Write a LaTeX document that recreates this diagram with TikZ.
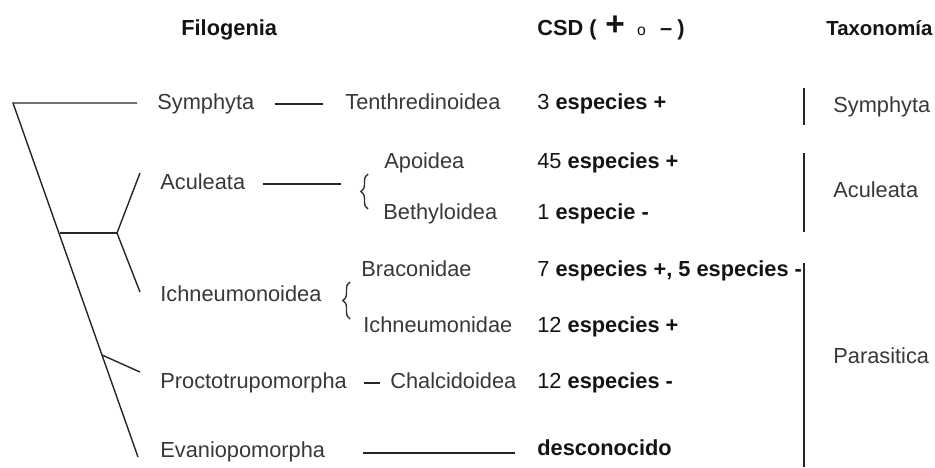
\documentclass[tikz,border=0pt]{standalone}
\usepackage{fontspec}
\setmainfont{Liberation Sans}
\usetikzlibrary{decorations.pathreplacing}
\begin{document}
\begin{tikzpicture}[x=0.02cm, y=-0.02cm]
    % Styles
    \tikzset{
      taxon/.style={anchor=west, inner sep=0pt, text height=1.5ex, text depth=.25ex,
        text=black!78, font=\fontsize{12.4}{14}\selectfont},
      count/.style={taxon, text=black!92},
      head/.style={taxon, text=black!92, font=\fontsize{12.4}{14}\selectfont\bfseries},
      branch/.style={line width=0.8pt, black!85},
      bar/.style={line width=1.4pt, black!85},
      curly/.style={decorate, decoration={brace, amplitude=4pt}, line width=0.8pt, black!80}
    }
    \useasboundingbox (0,0) rectangle (935,467);

    % --- Column headers ---
    \node[head] (h_filo) at (181,30) {Filogenia};
    \node[head] (h_csd) at (537,30) {CSD (\hspace{5pt}{\fontsize{19}{19}\selectfont +}\hspace{7pt}{\fontsize{9}{9}\selectfont\mdseries o}\hspace{8pt}--\hspace{3pt})};
    \node[head, font=\fontsize{11.6}{14}\selectfont\bfseries] (h_taxo) at (826,30) {Taxonomía};

    % --- Tree: trunk and junctions ---
    \coordinate (root) at (13,103);
    \coordinate (j_ai) at (60,233);
    \coordinate (j_ai2) at (117,233);
    \coordinate (j_pro) at (102,355);

    % Tips of the branches
    \coordinate (t_sym) at (137,103);
    \coordinate (t_acu) at (140,173);
    \coordinate (t_ich) at (140,292);
    \coordinate (t_pro) at (140,372);
    \coordinate (t_eva) at (138,457);

    \draw[branch] (t_sym) -- (root) -- (t_eva);
    \draw[branch] (j_ai) -- (j_ai2);
    \draw[branch] (t_acu) -- (j_ai2) -- (t_ich);
    \draw[branch] (j_pro) -- (t_pro);

    % --- Level 1: clades ---
    \node[taxon] (symphyta) at (157,104) {Symphyta};
    \node[taxon] (aculeata) at (160,184) {Aculeata};
    \node[taxon] (ichneumonoidea) at (160,296) {Ichneumonoidea};
    \node[taxon] (proctotrupo) at (160,383) {Proctotrupomorpha};
    \node[taxon] (evanio) at (160,452) {Evaniopomorpha};

    % --- Level 2: superfamilies / families ---
    \node[taxon] (tenthredinoidea) at (345,104) {Tenthredinoidea};
    \node[taxon] (apoidea) at (384,163) {Apoidea};
    \node[taxon] (bethyloidea) at (383,214) {Bethyloidea};
    \node[taxon] (braconidae) at (361,271) {Braconidae};
    \node[taxon] (ichneumonidae) at (363,327) {Ichneumonidae};
    \node[taxon] (chalcidoidea) at (390,383) {Chalcidoidea};

    % Links between levels
    \draw[branch, shorten <=0.4cm, shorten >=0.45cm] (symphyta.east) -- (tenthredinoidea.west);
    \draw[branch, shorten <=0.36cm] (aculeata.east) -- ++(96,0) coordinate (l_acu);
    \draw[branch, shorten <=0.34cm, shorten >=0.2cm] (proctotrupo.east) -- (chalcidoidea.west);
    \draw[branch] (evanio.east) ++(38,1) coordinate (l_eva) -- ++(152,0) coordinate (r_eva);

    % Braces
    \draw[curly] (368,209) -- (368,174);
    \draw[curly] (350,319) -- (350,282);

    % --- CSD column ---
    \node[count] (c_sym) at (537,104) {3 \textbf{especies +}};
    \node[count] (c_apo) at (537,163) {45 \textbf{especies +}};
    \node[count] (c_bet) at (537,214) {1 \textbf{especie -}};
    \node[count] (c_bra) at (537,271) {7 \textbf{especies +, 5 especies -}};
    \node[count] (c_ich) at (537,327) {12 \textbf{especies +}};
    \node[count] (c_cha) at (537,383) {12 \textbf{especies -}};
    \node[count] (c_eva) at (537,450) {\textbf{desconocido}};

    % --- Taxonomy column ---
    \draw[bar] (804,88) -- (804,125);
    \draw[bar] (804,153) -- (804,232);
    \draw[bar] (804,263) -- (804,467);
    \node[taxon] (x_sym) at (833,107) {Symphyta};
    \node[taxon] (x_acu) at (833,192) {Aculeata};
    \node[taxon] (x_par) at (833,358) {Parasitica};

\end{tikzpicture}
\end{document}
